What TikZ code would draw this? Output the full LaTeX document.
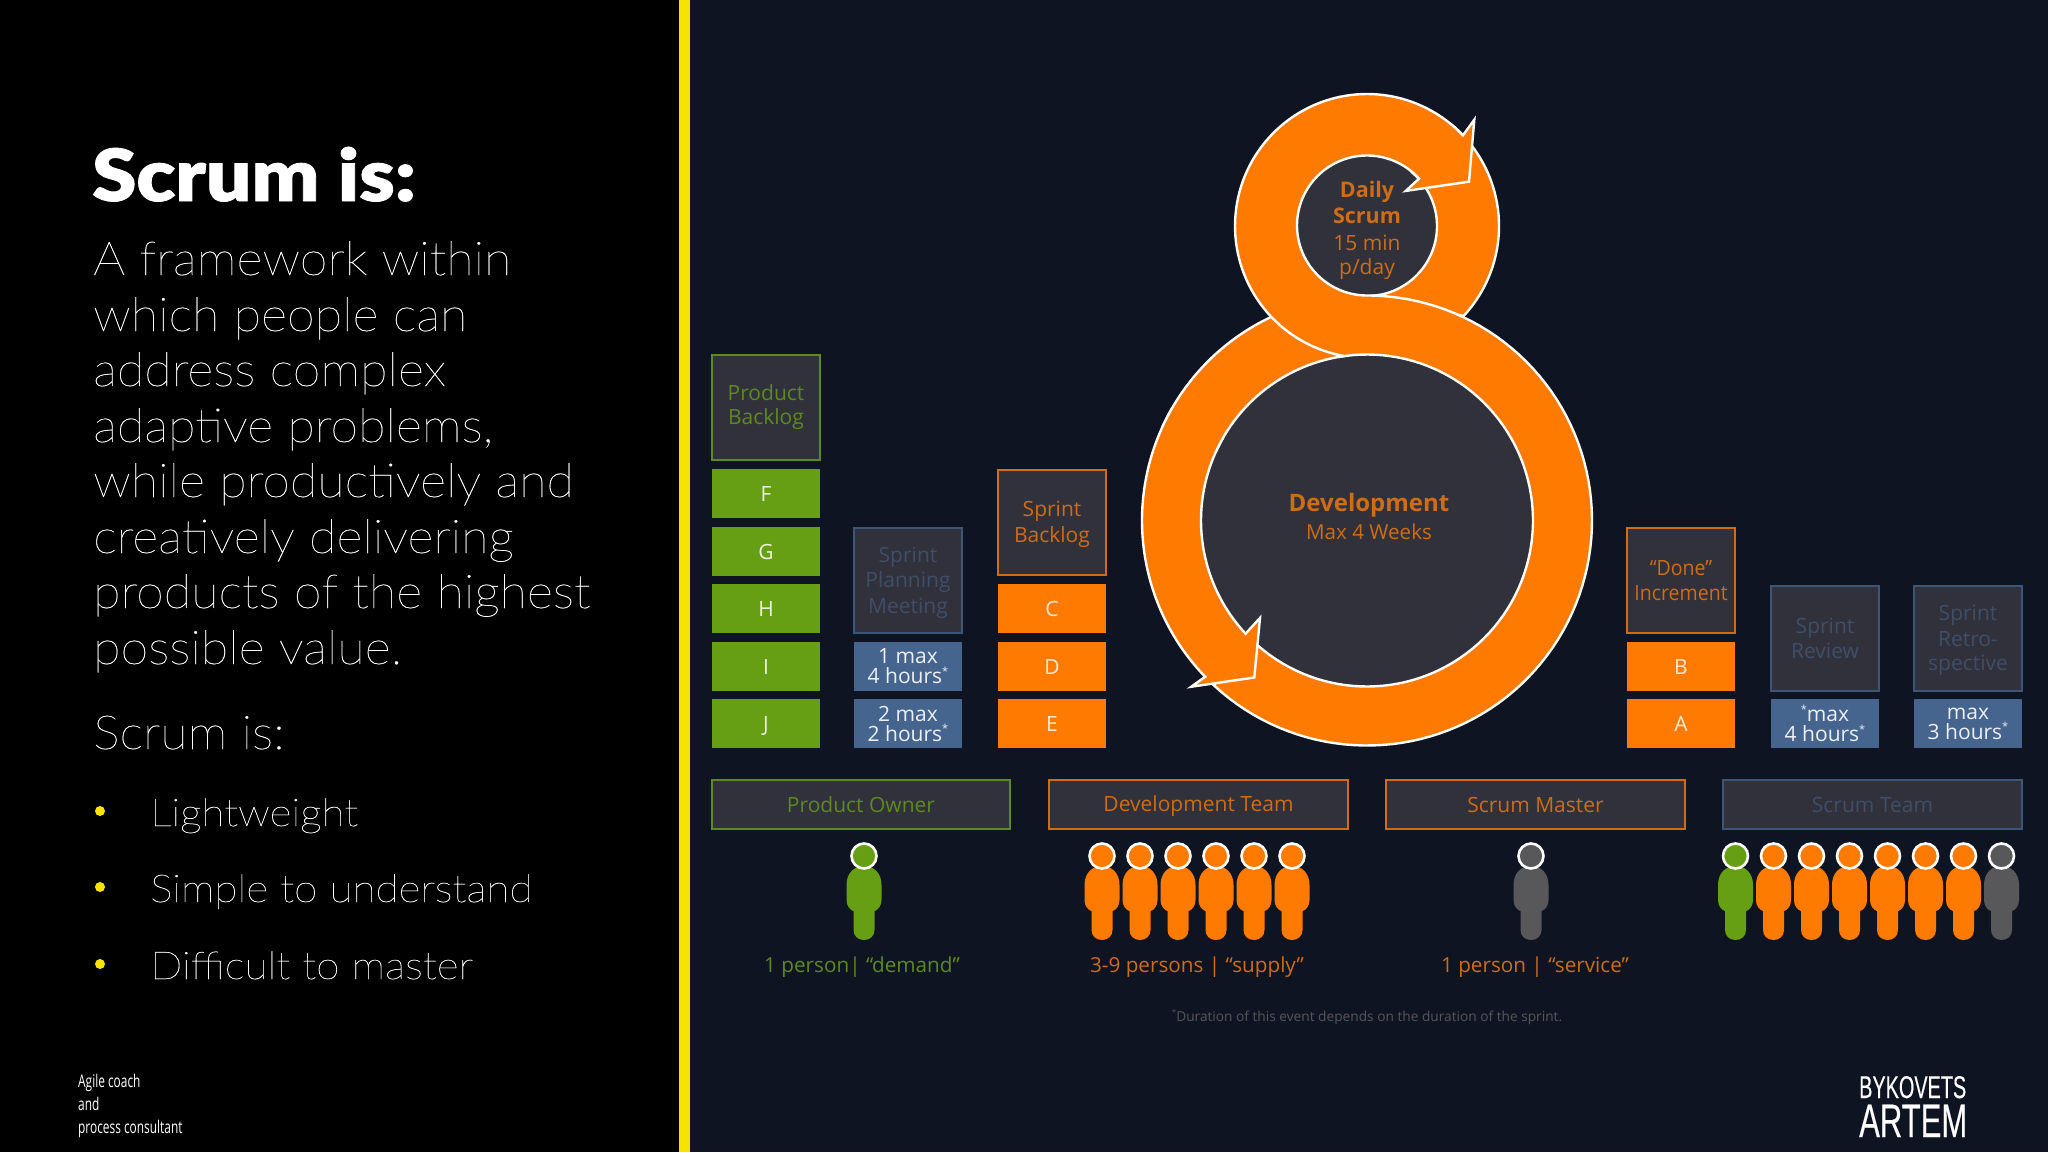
\documentclass[tikz,border=0pt]{standalone}
\usepackage{fontspec}
\setmainfont{Open Sans}
\newfontfamily\thinf[FakeStretch=1.07,FakeBold=0.45]{Lato Thin}
\newfontfamily\bulletf[FakeStretch=1.1,FakeBold=0.45]{Lato Thin}
\newfontfamily\heavyf[FakeStretch=1.11,FakeBold=1.2]{Lato Black}
\newfontfamily\narrowf[FakeStretch=0.68]{Open Sans}
\newfontfamily\logoa[FakeStretch=0.63,FakeBold=0.3]{Liberation Sans}
\newfontfamily\logob[FakeStretch=0.66,FakeBold=0.3]{Liberation Sans}
\newfontfamily\condf[FakeStretch=0.93]{Open Sans}
\definecolor{bgdark}{HTML}{0F1422}
\definecolor{panel}{HTML}{30313B}
\definecolor{orangeM}{HTML}{FF7A00}
\definecolor{greenM}{HTML}{669E14}
\definecolor{blueM}{HTML}{46658E}
\definecolor{greyM}{HTML}{58585A}
\definecolor{yellowM}{HTML}{F8E300}
\definecolor{greenT}{HTML}{5C8A1E}
\definecolor{orangeT}{HTML}{CF6C14}
\definecolor{blueT}{HTML}{404E68}
\definecolor{blueB}{HTML}{3D5578}
\definecolor{noteT}{HTML}{55565C}
\tikzset{
  boxbase/.style={inner sep=0pt,outer sep=0pt,align=center,font=\fontsize{21}{24.5}\selectfont,line width=1.6pt},
  greenhead/.style={boxbase,fill=panel,draw=greenT,text=greenT},
  orangehead/.style={boxbase,fill=panel,draw=orangeT,text=orangeT},
  bluehead/.style={boxbase,fill=panel,draw=blueB,text=blueT},
  greenitem/.style={boxbase,fill=greenM,text=white!88!greenM,draw=none},
  orangeitem/.style={boxbase,fill=orangeM,text=white!85!orangeM,draw=none},
  blueitem/.style={boxbase,fill=blueM,text=white!90!blueM,draw=none,font=\fontsize{21}{20}\selectfont},
  rolelabel/.style={font=\fontsize{20.7}{24}\selectfont,inner sep=0pt},
  bodytext/.style={anchor=base west,text=white,inner sep=0pt,font=\thinf\fontsize{47}{55}\selectfont},
  bullettext/.style={anchor=base west,text=white,inner sep=0pt,font=\bulletf\fontsize{38.5}{55}\selectfont},
  foottext/.style={anchor=base west,text=white,inner sep=0pt,font=\narrowf\fontsize{17.5}{20}\selectfont},
  ribbon/.style={fill=orangeM,draw=white,line width=2.4pt,line join=miter},
  circletext/.style={text=orangeT,inner sep=0pt,align=center}
}
% box from corners
\newcommand{\bx}[7]{\node[#6,minimum width={(#4-#2)*1pt},minimum height={(#5-#3)*1pt}] (#1) at ({(#2+#4)/2},{(#3+#5)/2}) {#7};}
% arc continuation in pixel coordinates
\newcommand{\arcto}[5]{-- plot[domain=#4:#5,samples=90,variable=\t] ({#1+#3*cos(\t)},{#2+#3*sin(\t)})}
\newcommand{\pol}[4]{({#1+#3*cos(#4)},{#2+#3*sin(#4)})}
\newcommand{\person}[2]{%
  \fill[#2,shift={(#1,0)}] (-17.5,885) .. controls (-17.5,873) and (-10,866) .. (0,866) .. controls (10,866) and (17.5,873) .. (17.5,885)
    -- (17.5,900) .. controls (17.5,906) and (14,910) .. (10.5,911) -- (10.5,930) .. controls (10.5,936) and (6,940) .. (0,940)
    .. controls (-6,940) and (-10.5,936) .. (-10.5,930) -- (-10.5,911) .. controls (-14,910) and (-17.5,906) .. (-17.5,900) -- cycle;
}
\newcommand{\phead}[2]{\draw[fill=#2,draw=white,line width=2.6pt] (#1,856) circle[radius=12.5pt];}
\newcommand{\hours}{\raisebox{0.42em}{\fontsize{11}{11}\selectfont *}}
\newcommand{\ls}{\rule[-4.5pt]{0pt}{24pt}}
\begin{document}
\begin{tikzpicture}[x=1pt,y=-1pt]
\useasboundingbox (0,0) rectangle (2048,1152);
\fill[black] (0,0) rectangle (679,1152);
\fill[yellowM] (679,0) rectangle (690,1152);
\fill[bgdark] (690,0) rectangle (2048,1152);
% left text
\node[anchor=base west,text=white,inner sep=0pt,font=\heavyf\fontsize{72}{72}\selectfont] (title) at (92,201) {Scrum is:};
\node[bodytext] (l1) at (93,275) {A framework within};
\node[bodytext] (l2) at (93,331) {which people can};
\node[bodytext] (l3) at (93,386) {address complex};
\node[bodytext] (l4) at (93,442) {adaptive problems,};
\node[bodytext] (l5) at (93,497) {while productively and};
\node[bodytext] (l6) at (93,553) {creatively delivering};
\node[bodytext] (l7) at (93,608) {products of the highest};
\node[bodytext] (l8) at (93,664) {possible value.};
\node[bodytext] (sub) at (93,749) {Scrum is:};
\fill[yellowM] (100,811) circle[radius=5pt] (100,887) circle[radius=5pt] (100,964) circle[radius=5pt];
\node[bullettext] (b1) at (150,826) {Lightweight};
\node[bullettext] (b2) at (150,902) {Simple to understand};
\node[bullettext] (b3) at (150,979) {Difficult to master};
\node[foottext] (f1) at (78,1087) {Agile coach};
\node[foottext] (f2) at (78,1110) {and};
\node[foottext] (f3) at (78,1133) {process consultant};
% product backlog column
\bx{pb}{712}{355}{820}{460}{greenhead}{\strut Product\\\strut Backlog}
\bx{F}{712}{469}{820}{518}{greenitem}{\ls F}
\bx{G}{712}{527}{820}{576}{greenitem}{\ls G}
\bx{H}{712}{584}{820}{633}{greenitem}{\ls H}
\bx{I}{712}{642}{820}{691}{greenitem}{\ls I}
\bx{J}{712}{699}{820}{748}{greenitem}{\ls J}
% sprint planning
\bx{sp}{854}{528}{962}{633}{bluehead}{\ls Sprint\\\ls Planning\\\ls Meeting}
\bx{sp1}{854}{642}{962}{691}{blueitem}{1 max\\4 hours\hours}
\bx{sp2}{854}{699}{962}{748}{blueitem}{2 max\\2 hours\hours}
% sprint backlog
\bx{sb}{998}{470}{1106}{575}{orangehead}{\ls Sprint\\\ls Backlog}
\bx{C}{998}{584}{1106}{633}{orangeitem}{\ls C}
\bx{D}{998}{642}{1106}{691}{orangeitem}{\ls D}
\bx{E}{998}{699}{1106}{748}{orangeitem}{\ls E}
% done increment
\bx{done}{1627}{528}{1735}{633}{orangehead}{\condf\ls “Done”\\\condf\ls Increment}
\bx{B}{1627}{642}{1735}{691}{orangeitem}{\ls B}
\bx{A}{1627}{699}{1735}{748}{orangeitem}{\ls A}
% review, retro
\bx{rev}{1771}{586}{1879}{691}{bluehead}{\ls Sprint\\\ls Review}
\bx{rev1}{1771}{699}{1879}{748}{blueitem}{\hours max\\4 hours\hours}
\bx{ret}{1914}{586}{2022}{691}{bluehead}{\ls Sprint\\\ls Retro-\\\ls spective}
\bx{ret1}{1914}{699}{2022}{748}{blueitem}{max\\3 hours\hours}
% role boxes
\bx{po}{712}{780}{1010}{829}{greenhead}{\ls Product Owner}
\bx{dt}{1049}{780}{1348}{829}{orangehead}{\ls Development Team}
\bx{sm}{1386}{780}{1685}{829}{orangehead}{\ls Scrum Master}
\bx{st}{1723}{780}{2022}{829}{bluehead}{\ls Scrum Team}
% figure 8: interior discs
\fill[panel] (1367,225) circle[radius=70pt];
\fill[panel] (1367,520.5) circle[radius=166pt];
% back part of upper ring
\filldraw[ribbon] \pol{1367}{226}{132}{-50} \arcto{1367}{226}{132}{-50}{43} \arcto{1367}{226}{70}{85}{-50} -- cycle;
% upper-left part of large ring, under the S
\filldraw[ribbon] \pol{1367}{520.5}{225}{-97} \arcto{1367}{520.5}{225}{-97}{-155} \arcto{1367}{520.5}{166}{-155}{-97} -- cycle;
% S-shaped ribbon with upper arrowhead
\filldraw[ribbon] \pol{1367}{520.5}{225}{133} \arcto{1367}{520.5}{225}{133}{-87}
  \arcto{1367}{225.5}{70}{88}{318}
  -- (1405.8,190.9) -- (1469,181.7) -- (1474.3,119.7)
  \arcto{1367}{226}{132}{-43.4}{-260}
  \arcto{1367}{520.5}{166}{-100}{131} -- cycle;
% lower-left part of large ring with lower arrowhead
\fill[orangeM] \pol{1367}{520.5}{225}{-150} \arcto{1367}{520.5}{225}{210}{136}
  -- (1191.3,686.7) -- (1254.3,677.5) -- (1260,617.9) \arcto{1367}{520.5}{166}{137}{210} -- cycle;
\draw[white,line width=2.4pt] \pol{1367}{520.5}{225}{210} \arcto{1367}{520.5}{225}{210}{136}
  -- (1191.3,686.7) -- (1254.3,677.5) -- (1260,617.9) \arcto{1367}{520.5}{166}{137}{210};
% circle labels
\node[circletext,font=\bfseries\fontsize{21.5}{26}\selectfont] (ds) at (1367,202) {Daily\\Scrum};
\node[circletext,font=\fontsize{21}{24}\selectfont] (dm) at (1367,257) {15 min\\p/day};
\node[circletext,font=\bfseries\fontsize{24}{28}\selectfont] (dev) at (1369,505.5) {Development};
\node[circletext,font=\fontsize{20.6}{24}\selectfont] (devm) at (1369,532) {Max 4 Weeks};
% persons
\person{864}{greenM}\phead{864}{greenM}
\foreach \px in {1102,1140,1178,1216,1254,1292}{\person{\px}{orangeM}}
\foreach \px in {1102,1140,1178,1216,1254,1292}{\phead{\px}{orangeM}}
\person{1531}{greyM}\phead{1531}{greyM}
\person{2001.5}{greyM}
\person{1735.5}{greenM}
\foreach \px in {1773.5,1811.5,1849.5,1887.5,1925.5,1963.5}{\person{\px}{orangeM}}
\phead{1735.5}{greenM}
\foreach \px in {1773.5,1811.5,1849.5,1887.5,1925.5,1963.5}{\phead{\px}{orangeM}}
\phead{2001.5}{greyM}
% labels
\node[rolelabel,text=greenT] (lpo) at (862,967) {1 person| “demand”};
\node[rolelabel,text=orangeT] (ldt) at (1197,967) {3-9 persons | “supply”};
\node[rolelabel,text=orangeT] (lsm) at (1535,967) {1 person | “service”};
\node[text=noteT,inner sep=0pt,font=\fontsize{13.7}{16}\selectfont] (note) at (1367,1017) {\raisebox{0.4em}{\fontsize{8}{8}\selectfont *}Duration of this event depends on the duration of the sprint.};
% logo
\node[anchor=base west,text=white,inner sep=0pt,font=\logoa\fontsize{31.5}{32}\selectfont] (by) at (1859,1098) {BYKOVETS};
\node[anchor=base west,text=white,inner sep=0pt,font=\logob\fontsize{47}{47}\selectfont] (ar) at (1859,1137) {ARTEM};
\end{tikzpicture}
\end{document}
